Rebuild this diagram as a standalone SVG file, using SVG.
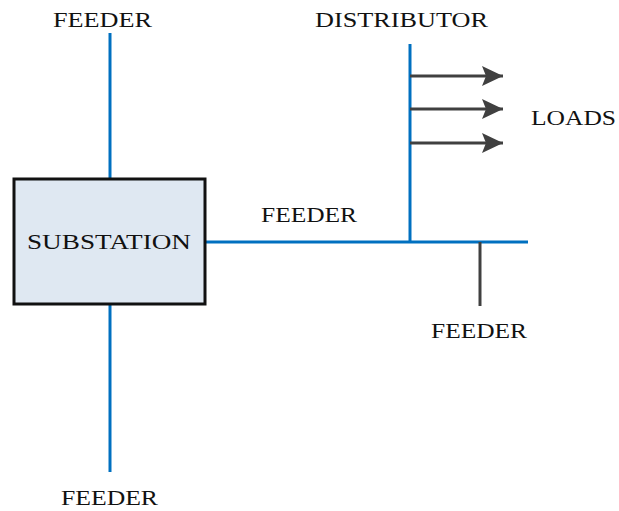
<svg xmlns="http://www.w3.org/2000/svg" width="619" height="511" viewBox="0 0 619 511">
  <style>
    .lbl { font-family: "Liberation Serif", "Times New Roman", serif; font-size: 22px; fill: #111; }
    .bus { stroke: #0070c0; stroke-width: 3; fill: none; }
    .dark { stroke: #404040; stroke-width: 3; fill: none; }
    .box { fill: #dfe8f2; stroke: #111; stroke-width: 3; }
  </style>
  <defs>
    <marker id="arrow" markerUnits="userSpaceOnUse" markerWidth="22" markerHeight="22" refX="21" refY="10" orient="auto">
      <path d="M0,0 L21,10 L0,20 L4,10 Z" fill="#404040"/>
    </marker>
  </defs>

  <!-- connectors -->
  <g id="connectors">
    <line class="bus" x1="110" y1="33" x2="110" y2="179"/>
    <line class="bus" x1="110" y1="305" x2="110" y2="472"/>
    <line class="bus" x1="205" y1="242" x2="528" y2="242"/>
    <line class="bus" x1="410" y1="44" x2="410" y2="242"/>
    <line class="dark" x1="480" y1="242" x2="480" y2="306"/>
    <line class="dark" x1="410" y1="76" x2="503" y2="76" marker-end="url(#arrow)"/>
    <line class="dark" x1="410" y1="109" x2="503" y2="109" marker-end="url(#arrow)"/>
    <line class="dark" x1="410" y1="143" x2="503" y2="143" marker-end="url(#arrow)"/>
  </g>

  <!-- substation -->
  <g id="substation">
    <rect class="box" x="14" y="179" width="191" height="125"/>
    <text class="lbl" x="27" y="249" textLength="164" lengthAdjust="spacingAndGlyphs">SUBSTATION</text>
  </g>

  <!-- labels -->
  <g id="feeder-top">
    <text class="lbl" x="53" y="27" textLength="99" lengthAdjust="spacingAndGlyphs">FEEDER</text>
  </g>
  <g id="distributor">
    <text class="lbl" x="315" y="27" textLength="173" lengthAdjust="spacingAndGlyphs">DISTRIBUTOR</text>
  </g>
  <g id="loads">
    <text class="lbl" x="531" y="125" textLength="85" lengthAdjust="spacingAndGlyphs">LOADS</text>
  </g>
  <g id="feeder-mid">
    <text class="lbl" x="261" y="222" textLength="96" lengthAdjust="spacingAndGlyphs">FEEDER</text>
  </g>
  <g id="feeder-right">
    <text class="lbl" x="431" y="338" textLength="96" lengthAdjust="spacingAndGlyphs">FEEDER</text>
  </g>
  <g id="feeder-bottom">
    <text class="lbl" x="61" y="505" textLength="97" lengthAdjust="spacingAndGlyphs">FEEDER</text>
  </g>
</svg>
